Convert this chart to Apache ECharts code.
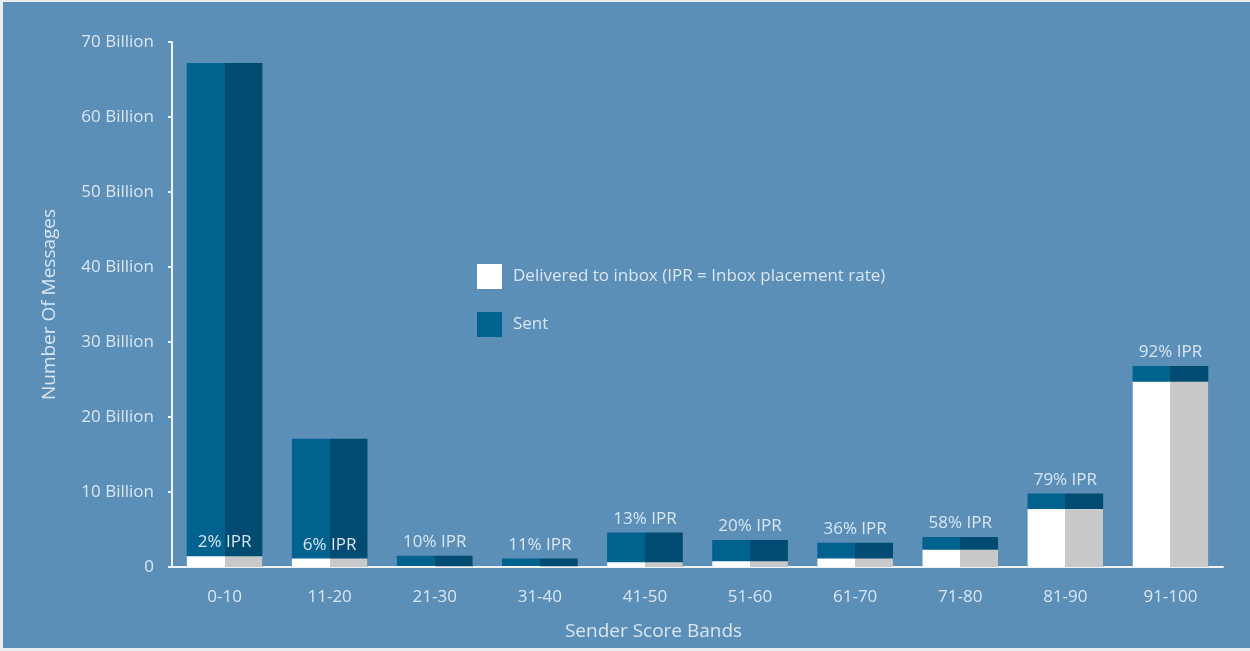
<!DOCTYPE html>
<html>
<head>
<meta charset="utf-8">
<script src="https://cdn.jsdelivr.net/npm/echarts@6/dist/echarts.min.js"></script>
<style>
html,body{margin:0;padding:0;background:#e9eef2;width:1250px;height:651px;overflow:hidden;}
#c{position:absolute;left:3px;top:2px;width:1247px;height:646px;background:#5c8fb7;}
</style>
</head>
<body>
<div id="c"></div>
<script>
const categories = ['0-10','11-20','21-30','31-40','41-50','51-60','61-70','71-80','81-90','91-100'];
const sent = [67.2, 17.1, 1.5, 1.15, 4.6, 3.6, 3.25, 4.0, 9.8, 26.8];
const delivered = [1.45, 1.15, 0.15, 0.13, 0.62, 0.78, 1.15, 2.3, 7.75, 24.7];
const iprLabels = ['2% IPR','6% IPR','10% IPR','11% IPR','13% IPR','20% IPR','36% IPR','58% IPR','79% IPR','92% IPR'];
const labelOnDelivered = [true, true, false, false, false, false, false, false, false, false];
const yTicks = [0,10,20,30,40,50,60,70];

const txt = '#d9e6f0';
const font = '"Open Sans", "Noto Sans", sans-serif';
function split(c1, c2){
  return new echarts.graphic.LinearGradient(0,0,1,0,[
    {offset:0,color:c1},{offset:0.5,color:c1},{offset:0.5,color:c2},{offset:1,color:c2}]);
}
const lbl = {show:true, position:'top', distance:5, color:txt, fontSize:17, fontFamily:font};
const sentData = sent.map((v,i)=>({value:v, label: labelOnDelivered[i] ? {show:false} : Object.assign({formatter: iprLabels[i]}, lbl)}));
const delData = delivered.map((v,i)=>({value:v, label: labelOnDelivered[i] ? Object.assign({formatter: iprLabels[i]}, lbl) : {show:false}}));

const chart = echarts.init(document.getElementById('c'), null, {renderer:'canvas'});
chart.setOption({
  backgroundColor:'#5c8fb7',
  animation:false,
  textStyle:{fontFamily:font},
  grid:{left:169, right:27, top:40, bottom:81},
  legend:{
    orient:'vertical', left:469, top:257, itemWidth:25, itemHeight:25, itemGap:23,
    icon:'rect',
    textStyle:{color:txt, fontSize:17, fontFamily:font, padding:[7,0,0,6]},
    data:[
      {name:'Delivered to inbox (IPR = Inbox placement rate)', itemStyle:{color:'#ffffff'}},
      {name:'Sent', itemStyle:{color:'#00628f'}}
    ]
  },
  xAxis:{
    type:'category', data:categories,
    name:'Sender Score Bands', nameLocation:'middle', nameGap:55,
    nameTextStyle:{color:txt, fontSize:19, fontFamily:font, padding:[0,88,0,0]},
    axisLine:{lineStyle:{color:'#eef3f7', width:2}},
    axisTick:{show:false},
    axisLabel:{color:txt, fontSize:17, margin:22, fontFamily:font}
  },
  yAxis:{
    type:'value', min:0, max:70, interval:10,
    name:'Number Of Messages', nameLocation:'middle', nameGap:113,
    nameTextStyle:{color:txt, fontSize:19, fontFamily:font},
    axisLine:{show:true, lineStyle:{color:'#eef3f7', width:2}},
    axisTick:{show:true, length:4, lineStyle:{color:'#eef3f7', width:2}},
    splitLine:{show:false},
    axisLabel:{color:txt, fontSize:17, margin:18, fontFamily:font,
      formatter:v=> yTicks.indexOf(v)===0 ? '0' : v+' Billion'}
  },
  series:[
    {name:'Sent', type:'bar', barWidth:'72%', data:sentData,
      itemStyle:{color:split('#00628f','#004b71')}},
    {name:'Delivered to inbox (IPR = Inbox placement rate)', type:'bar', barWidth:'72%', barGap:'-100%', data:delData,
      itemStyle:{color:split('#ffffff','#c9c9c9')}}
  ]
});
</script>
</body>
</html>
